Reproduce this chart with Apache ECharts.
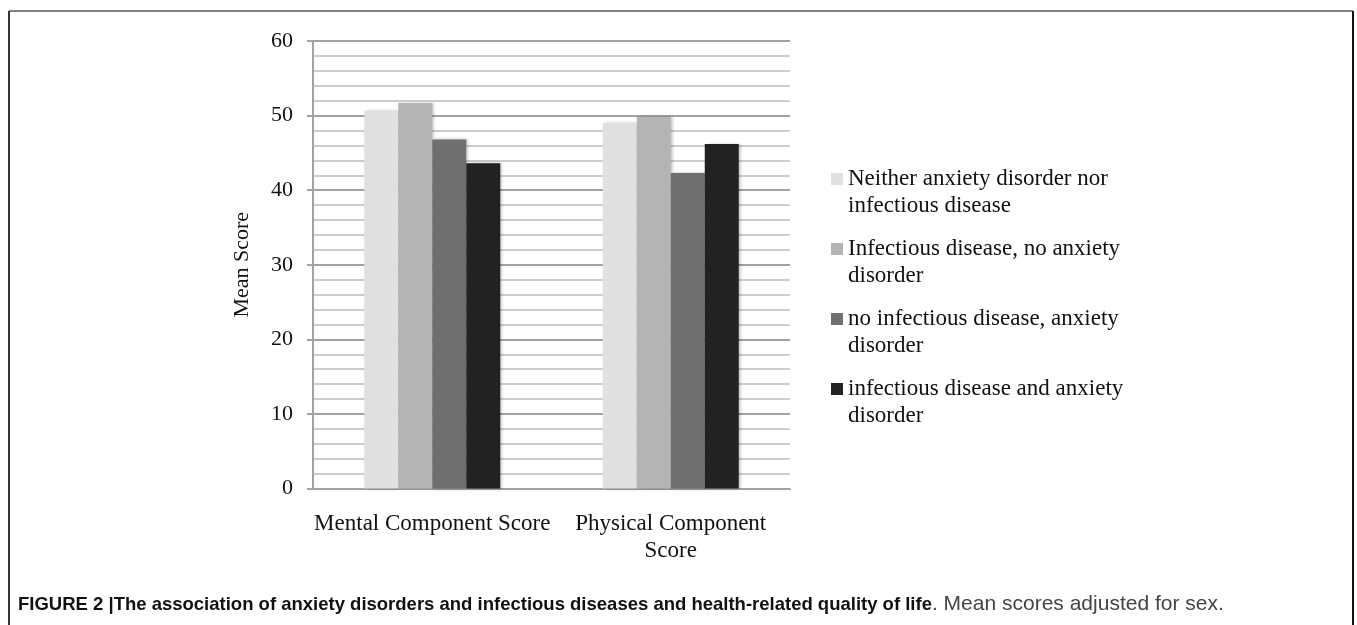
<!DOCTYPE html>
<html>
<head>
<meta charset="utf-8">
<script src="https://cdn.jsdelivr.net/npm/echarts@6/dist/echarts.min.js"></script>
<style>
  html, body { margin: 0; padding: 0; background: #fff; }
  #main { width: 1357px; height: 625px; }
</style>
</head>
<body>
<div id="main"></div>
<script>
const categories = ['Mental Component Score', 'Physical Component Score']
const groups = [
  'Neither anxiety disorder nor\ninfectious disease',
  'Infectious disease, no anxiety\ndisorder',
  'no infectious disease, anxiety\ndisorder',
  'infectious disease and anxiety\ndisorder'
]
const neither = [50.6, 49.0]
const infOnly = [51.7, 49.8]
const anxOnly = [46.8, 42.3]
const both = [43.6, 46.2]
const colors = ['#e0e0e0', '#b4b4b4', '#6f6f6f', '#222222']

const serif = '"Liberation Serif", "DejaVu Serif", serif'
const sans = '"Liberation Sans", Arial, sans-serif'

// legend square sits on the first line of a two-line label
const legendIcon = 'path://M0,7.5h12v12h-12z M0,0h0.01v0.01h-0.01z M0,54h0.01v0.01h-0.01z'

const chart = echarts.init(document.getElementById('main'))

const values = [neither, infOnly, anxOnly, both]
const series = groups.map((name, i) => ({
  name: name,
  type: 'bar',
  data: values[i],
  barWidth: 34,
  barGap: '0%',
  itemStyle: {
    color: colors[i],
    shadowBlur: 3,
    shadowOffsetX: 2,
    shadowColor: 'rgba(0,0,0,0.25)'
  }
}))

chart.setOption({
  animation: false,
  title: {
    left: 13,
    top: 589,
    text: '{b|FIGURE 2 |The association of anxiety disorders and infectious diseases and health-related quality of life}{n|. Mean scores adjusted for sex.}',
    textStyle: {
      rich: {
        b: { fontFamily: sans, fontWeight: 'bold', fontSize: 18.5, color: '#111' },
        n: { fontFamily: sans, fontWeight: 'normal', fontSize: 21, color: '#444' }
      }
    }
  },
  legend: {
    orient: 'vertical',
    left: 826,
    top: 160.5,
    itemWidth: 12,
    itemHeight: 54,
    itemGap: 16,
    icon: legendIcon,
    selectedMode: false,
    textStyle: { fontFamily: serif, fontSize: 23, lineHeight: 27, color: '#111' },
    data: groups
  },
  grid: { left: 313, right: 567, top: 41, bottom: 136.5 },
  xAxis: {
    type: 'category',
    data: categories,
    axisLine: { lineStyle: { color: '#a2a2a2', width: 2 } },
    axisTick: { show: false },
    axisLabel: {
      interval: 0,
      margin: 22,
      fontFamily: serif,
      fontSize: 23,
      lineHeight: 27,
      color: '#111',
      formatter: v => v === categories[1] ? 'Physical Component\nScore' : v
    }
  },
  yAxis: {
    type: 'value',
    min: 0,
    max: 60,
    interval: 10,
    name: 'Mean Score',
    nameLocation: 'middle',
    nameGap: 60,
    nameTextStyle: { fontFamily: serif, fontSize: 22, color: '#111' },
    axisLine: { show: true, lineStyle: { color: '#a2a2a2', width: 2 } },
    axisTick: { show: true, length: 6, lineStyle: { color: '#a2a2a2', width: 2 } },
    axisLabel: { margin: 20, fontFamily: serif, fontSize: 22, color: '#111' },
    splitLine: { lineStyle: { color: '#a2a2a2', width: 2 } },
    minorTick: { show: false, splitNumber: 5 },
    minorSplitLine: { show: true, lineStyle: { color: '#cdcdcd', width: 2 } }
  },
  graphic: [
    { type: 'line', shape: { x1: 9, y1: 11, x2: 1353, y2: 11 }, style: { stroke: '#808080', lineWidth: 2 } },
    { type: 'line', shape: { x1: 9, y1: 11, x2: 9, y2: 625 }, style: { stroke: '#333', lineWidth: 2 } },
    { type: 'line', shape: { x1: 1353, y1: 11, x2: 1353, y2: 625 }, style: { stroke: '#111', lineWidth: 2 } }
  ],
  series: series
})
</script>
</body>
</html>
